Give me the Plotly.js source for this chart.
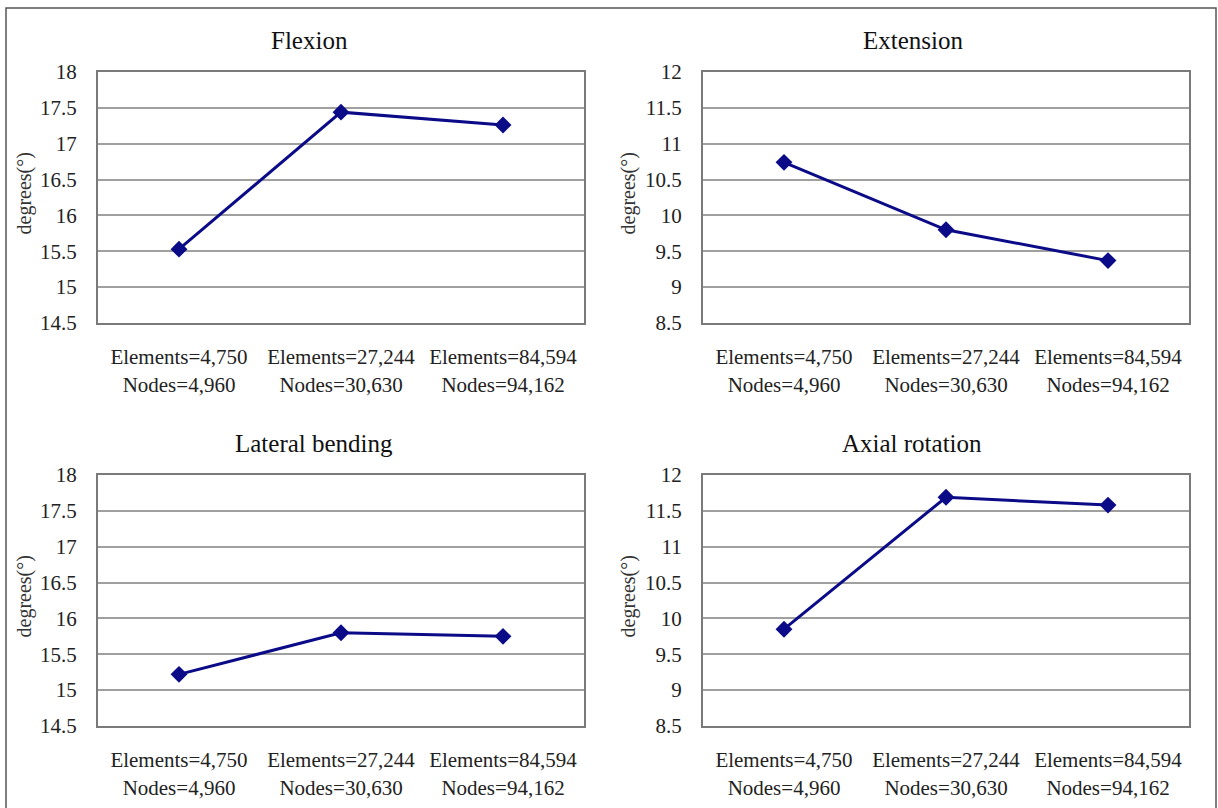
<!DOCTYPE html>
<html>
<head>
<meta charset="utf-8">
<script src="https://cdn.plot.ly/plotly-3.0.1.min.js"></script>
<style>html,body{margin:0;padding:0;background:#fff;}#chart{width:1218px;height:808px;}</style>
</head>
<body>
<div id="chart"></div>
<script>
// ---- data ----
const categories = ["Elements=4,750<br>Nodes=4,960", "Elements=27,244<br>Nodes=30,630", "Elements=84,594<br>Nodes=94,162"];
const flexion = [15.53, 17.44, 17.26];
const extension = [10.74, 9.80, 9.37];
const lateralBending = [15.22, 15.80, 15.75];
const axialRotation = [9.85, 11.69, 11.58];
const panelTitles = ["Flexion", "Extension", "Lateral bending", "Axial rotation"];
const yTitle = "degrees(°)";
const rangeA = [14.5, 18];
const rangeB = [8.5, 12];

// ---- layout geometry (pixels) ----
const W = 1218, H = 808;
const fx = p => p / W;
const fy = p => 1 - p / H;
const colX = [[98, 584], [703, 1189]];
const rowY = [[72, 323], [475, 726]];

const font = "Liberation Serif";
const lineColor = "#0b0b88";

function trace(vals, i) {
  const s = i === 0 ? "" : String(i + 1);
  return {
    type: "scatter", mode: "lines+markers",
    x: categories, y: vals,
    xaxis: "x" + s, yaxis: "y" + s,
    line: {color: lineColor, width: 3},
    marker: {symbol: "diamond", size: 13, color: lineColor},
    hoverinfo: "x+y", showlegend: false
  };
}

const series = [flexion, extension, lateralBending, axialRotation];
const ranges = [rangeA, rangeB, rangeA, rangeB];
const data = series.map((v, i) => trace(v, i));

const layout = {
  width: W, height: H,
  margin: {l: 0, r: 0, t: 0, b: 0},
  paper_bgcolor: "#ffffff", plot_bgcolor: "#ffffff",
  font: {family: font, color: "#222", size: 21},
  showlegend: false,
  annotations: [],
  shapes: [{
    type: "path", xref: "paper", yref: "paper",
    path: `M ${fx(6)} ${fy(830)} L ${fx(6)} ${fy(8)} L ${fx(1216)} ${fy(8)} L ${fx(1216)} ${fy(830)}`,
    line: {color: "#555", width: 1.5}
  }]
};

const titlePos = [[309, 40], [913, 40], [314, 443], [912, 443]];
const yTitleX = [24, 628];

for (let i = 0; i < 4; i++) {
  const s = i === 0 ? "" : String(i + 1);
  const c = i % 2, r = Math.floor(i / 2);
  layout["xaxis" + s] = {
    domain: [fx(colX[c][0]), fx(colX[c][1])],
    anchor: "y" + s,
    type: "category",
    range: [-0.5, 2.5],
    showgrid: false,
    showline: true, mirror: true, linecolor: "#7a7a7a", linewidth: 2,
    ticks: "", ticklabelstandoff: 14,
    tickfont: {family: font, size: 21, color: "#222"},
    fixedrange: true
  };
  layout["yaxis" + s] = {
    domain: [fy(rowY[r][1]), fy(rowY[r][0])],
    anchor: "x" + s,
    range: ranges[i], dtick: 0.5, tick0: 0,
    showgrid: true, gridcolor: "#a0a0a0", gridwidth: 2,
    zeroline: false,
    showline: true, mirror: true, linecolor: "#7a7a7a", linewidth: 2,
    ticks: "", ticklabelstandoff: 15,
    tickfont: {family: font, size: 21, color: "#222"},
    fixedrange: true
  };
  layout.annotations.push({
    text: panelTitles[i], xref: "paper", yref: "paper",
    x: fx(titlePos[i][0]), y: fy(titlePos[i][1]),
    xanchor: "center", yanchor: "middle", showarrow: false,
    font: {family: font, size: 25, color: "#111"}
  });
  layout.annotations.push({
    text: yTitle, xref: "paper", yref: "paper",
    x: fx(yTitleX[c]), y: fy((rowY[r][0] + rowY[r][1]) / 2 - 4),
    xanchor: "center", yanchor: "middle", showarrow: false, textangle: -90,
    font: {family: font, size: 20, color: "#333"}
  });
}

Plotly.newPlot("chart", data, layout, {displayModeBar: false, staticPlot: true});
</script>
</body>
</html>
